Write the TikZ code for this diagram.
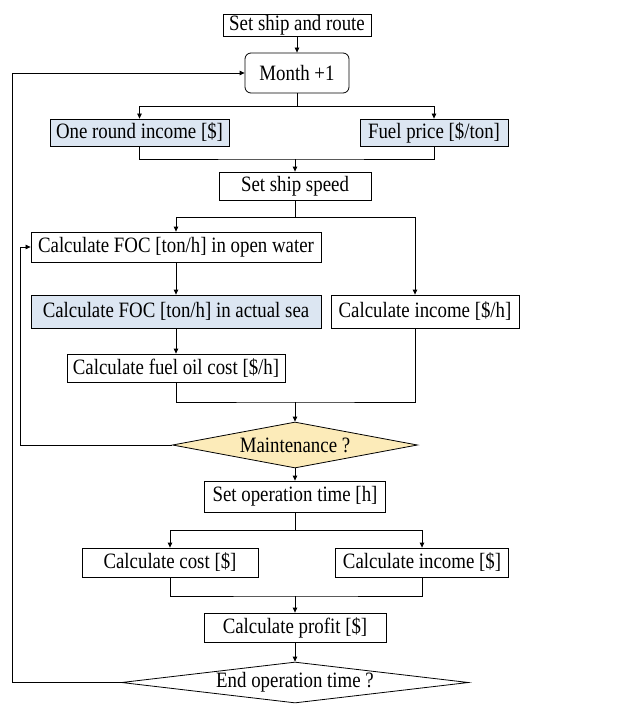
\documentclass[tikz,border=0pt]{standalone}
\usepackage{fontspec}
\setmainfont[FakeStretch=0.86]{Liberation Serif}
\usetikzlibrary{shapes.geometric,arrows.meta}
\definecolor{lblue}{HTML}{DCE6F2}
\definecolor{lyellow}{HTML}{FCEBB9}
\begin{document}
\begin{tikzpicture}[x=1bp,y=-1bp,
  box/.style={draw,line width=0.8bp,inner sep=0pt,font=\fontsize{22}{24}\selectfont},
  bluebox/.style={box,fill=lblue},
  decision/.style={draw,line width=0.8bp,diamond,inner sep=0pt,font=\fontsize{22}{24}\selectfont},
  conn/.style={line width=0.8bp},
  arr/.style={line width=0.8bp,-{Triangle[length=5bp,width=4.5bp]}}
]
\useasboundingbox (0,0) rectangle (621,704);

\node[box,minimum width=148bp,minimum height=22bp] (start) at (297,25) {Set ship and route};
\node[box,rounded corners=6bp,minimum width=104bp,minimum height=40bp] (month) at (297,73) {Month +1};
\node[bluebox,minimum width=179bp,minimum height=27bp] (income1) at (139.5,132.5) {One round income [\$]};
\node[bluebox,minimum width=148bp,minimum height=27bp] (fuel) at (434,132.5) {Fuel price [\$/ton]};
\node[box,minimum width=152bp,minimum height=28bp] (speed) at (295,186) {Set ship speed};
\node[box,minimum width=290bp,minimum height=30bp] (focopen) at (176,247) {Calculate FOC [ton/h] in open water};
\node[bluebox,minimum width=290bp,minimum height=33bp] (focsea) at (176,311.5) {Calculate FOC [ton/h] in actual sea};
\node[box,minimum width=188bp,minimum height=33bp] (inch) at (425,311.5) {Calculate income [\$/h]};
\node[box,minimum width=218bp,minimum height=28bp] (fuelcost) at (176,368) {Calculate fuel oil cost [\$/h]};
\node[decision,fill=lyellow,aspect=5.3,minimum width=245bp,minimum height=46bp] (maint) at (295,445) {Maintenance ?};
\node[box,minimum width=181bp,minimum height=31bp] (optime) at (295,496.5) {Set operation time [h]};
\node[box,minimum width=176bp,minimum height=29bp] (cost) at (170,562.5) {Calculate cost [\$]};
\node[box,minimum width=173bp,minimum height=29bp] (inc) at (422,562.5) {Calculate income [\$]};
\node[box,minimum width=182bp,minimum height=29bp] (profit) at (295,627.5) {Calculate profit [\$]};
\node[decision,aspect=8.5,minimum width=347bp,minimum height=41bp] (endop) at (295,682.5) {End operation time ?};

\coordinate (j1) at (297,106);
\coordinate (j2) at (295,159);
\coordinate (j3) at (295,217);
\coordinate (j4) at (295,402);
\coordinate (j5) at (295,530);
\coordinate (j6) at (295,596);
\coordinate (l1) at (20,445);
\coordinate (l2) at (12,682.5);

\draw[arr] (start) -- (month);
\draw[conn] (month.south) -- (j1);
\draw[arr] (j1) -| (income1.north);
\draw[arr] (j1) -| (fuel.north);
\draw[conn] (income1.south) |- (j2) -| (fuel.south);
\draw[arr] (j2) -- (speed.north);
\draw[conn] (speed.south) -- (j3);
\draw[arr] (j3) -| (focopen.north);
\draw[arr] (j3) -| ([xshift=-10bp]inch.north);
\draw[arr] (focopen) -- (focsea);
\draw[arr] (focsea) -- (fuelcost);
\draw[conn] (fuelcost.south) |- (j4) -| ([xshift=-10bp]inch.south);
\draw[arr] (j4) -- (maint.north);
\draw[arr] (maint.west) -- (l1) |- (focopen.west);
\draw[arr] (maint.south) -- (optime.north);
\draw[conn] (optime.south) -- (j5);
\draw[arr] (j5) -| (cost.north);
\draw[arr] (j5) -| (inc.north);
\draw[conn] (cost.south) |- (j6) -| (inc.south);
\draw[arr] (j6) -- (profit.north);
\draw[arr] (profit.south) -- (endop.north);
\draw[arr] (endop.west) -- (l2) |- (month.west);
\end{tikzpicture}
\end{document}
